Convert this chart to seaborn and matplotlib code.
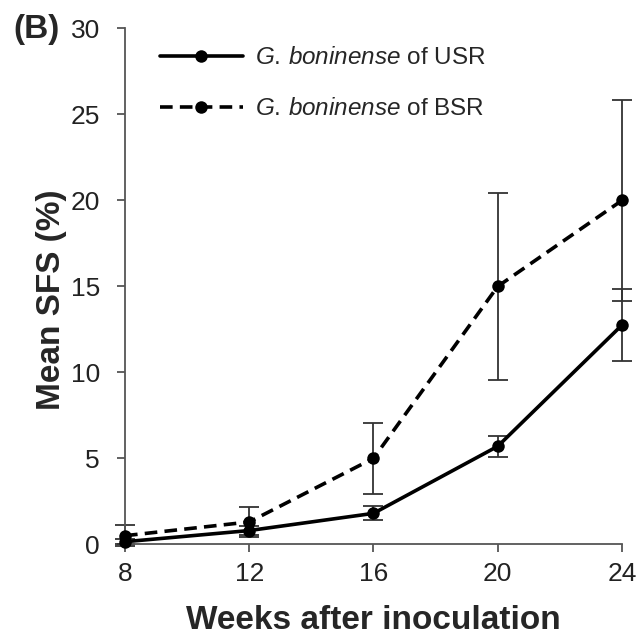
import numpy as np
import pandas as pd
import matplotlib
matplotlib.use("Agg")
import matplotlib.pyplot as plt
import seaborn as sns

# Data: mean SFS (%) and standard errors per isolate group
weeks = [8, 12, 16, 20, 24]
usr_mean = [0.15, 0.8, 1.8, 5.7, 12.75]
usr_err = [0.15, 0.25, 0.4, 0.6, 2.1]
bsr_mean = [0.5, 1.3, 5.0, 15.0, 20.0]
bsr_err = [0.6, 0.86, 2.05, 5.45, 5.85]
series_names = ["USR", "BSR"]
legend_labels = [r"$\it{G.\,boninense}$ of USR", r"$\it{G.\,boninense}$ of BSR"]
x_ticks = [8, 12, 16, 20, 24]
y_ticks = [0, 5, 10, 15, 20, 25, 30]

sns.set_theme(style="ticks")
plt.rcParams["font.family"] = ["Liberation Sans", "DejaVu Sans"]
plt.rcParams["mathtext.fontset"] = "custom"
plt.rcParams["mathtext.rm"] = "Liberation Sans"
plt.rcParams["mathtext.it"] = "Liberation Sans:italic"

df = pd.DataFrame({
    "week": weeks * 2,
    "sfs": usr_mean + bsr_mean,
    "group": [series_names[0]] * len(weeks) + [series_names[1]] * len(weeks),
})

fig = plt.figure(figsize=(6.44, 6.43), dpi=100)
ax = fig.add_axes([0.1941, 0.1535, 0.7717, 0.8022])

spine_col = "#555555"
# error bars first so the lines sit on top
ax.errorbar(weeks, usr_mean, yerr=usr_err, fmt="none", ecolor="#333333",
            elinewidth=1.3, capsize=7, capthick=1.3, clip_on=False, zorder=2)
ax.errorbar(weeks, bsr_mean, yerr=bsr_err, fmt="none", ecolor="#333333",
            elinewidth=1.3, capsize=7, capthick=1.3, clip_on=False, zorder=2)

sns.lineplot(data=df, x="week", y="sfs", hue="group", style="group",
             hue_order=series_names, style_order=series_names,
             palette={"USR": "black", "BSR": "black"},
             dashes={"USR": "", "BSR": (3.5, 2.0)},
             markers={"USR": "o", "BSR": "o"}, markersize=9,
             markeredgewidth=0, linewidth=2.6, ax=ax, clip_on=False, zorder=3)

ax.set_xlim(8, 24)
ax.set_ylim(0, 30)
ax.set_xticks(x_ticks)
ax.set_yticks(y_ticks)
ax.tick_params(axis="both", labelsize=19, colors="#222222", length=6,
               width=1.3, direction="out")
ax.tick_params(axis="x", pad=7, color=spine_col)
ax.tick_params(axis="y", pad=12, color=spine_col)
for side in ["top", "right"]:
    ax.spines[side].set_visible(False)
for side in ["left", "bottom"]:
    ax.spines[side].set_color(spine_col)
    ax.spines[side].set_linewidth(1.3)

ax.set_xlabel("Weeks after inoculation", fontsize=24, fontweight="bold")
ax.set_ylabel("Mean SFS (%)", fontsize=24, fontweight="bold")
ax.xaxis.set_label_coords(0.5, -0.118)
ax.yaxis.set_label_coords(-0.117, 0.4736)

handles, _ = ax.get_legend_handles_labels()
leg = ax.legend(handles[:2], legend_labels, loc="upper left",
                bbox_to_anchor=(160 / 644, 1 - 47 / 643),
                bbox_transform=fig.transFigure, frameon=False,
                fontsize=17.5, handlelength=3.4, handletextpad=0.5,
                labelspacing=1.2, borderpad=0, borderaxespad=0)

fig.text(13 / 644, 1 - 38 / 643, "(B)", fontsize=24, fontweight="bold",
         va="baseline", ha="left")

fig.savefig("out.png", dpi=100, facecolor="white")
